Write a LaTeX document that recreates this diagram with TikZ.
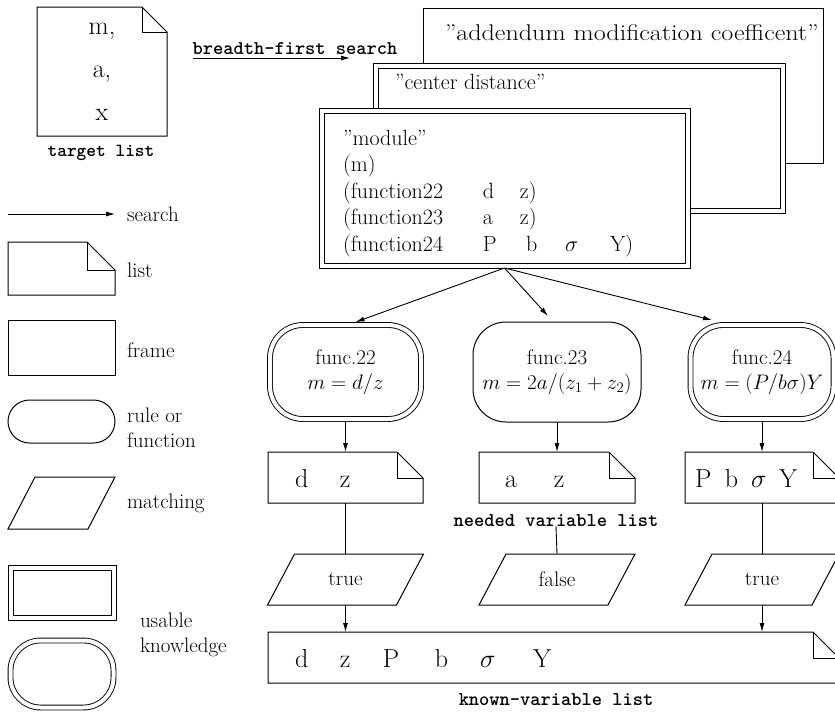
\RequirePackage{fix-cm}
\documentclass[tikz,border=0pt]{standalone}
\usepackage{graphicx}
\usetikzlibrary{calc,arrows.meta}
\newcommand\fzLab{\ttfamily\bfseries\fontsize{19.5}{23}\selectfont}
\newcommand\fzFrame{\fontsize{22}{26.5}\selectfont}
\newcommand\fzFunc{\fontsize{21}{25}\selectfont}
\newcommand\fzList{\fontsize{26}{30}\selectfont}
\newcommand\fzLeg{\fontsize{21}{25}\selectfont}
\newcommand\mk[2]{\makebox[#1pt][l]{#2}}
\newcommand\qq{\textquotedblright}
% folded-corner list outline around a named node
\newcommand\drawdoc[2]{%
  \draw[line width=1pt] (#1.south west) -- (#1.north west) -- ($(#1.north east)+(-#2,0)$)
     -- ($(#1.north east)+(0,#2)$) -- (#1.south east) -- cycle;
  \draw[line width=1pt] ($(#1.north east)+(-#2,0)$) -- ++(0,#2) -- ++(#2,0);}
% parallelogram outline around a named node
\newcommand\drawpara[2]{%
  \draw[line width=1pt] ($(#1.north west)+(#2,0)$) -- (#1.north east)
     -- ($(#1.south east)+(-#2,0)$) -- (#1.south west) -- cycle;}
% inner line of a double-lined rectangle
\newcommand\innerbox[2]{%
  \draw[line width=0.9pt] ($(#1.north west)+(#2,#2)$) rectangle ($(#1.south east)+(-#2,-#2)$);}
\tikzset{
  every node/.style={inner sep=0pt, outer sep=0pt},
  sfrm/.style={draw, line width=1pt, fill=white},
  dfrm/.style={draw, line width=0.9pt, double, double distance=4pt, fill=white, outer sep=2.9pt},
  arr/.style={line width=0.9pt, -{Latex[length=9pt,width=5pt]}},
  ln/.style={line width=0.9pt},
  lab/.style={font=\fzLab, anchor=base},
  legtxt/.style={font=\fzLeg, anchor=base west},
  frtxt/.style={font=\fzFrame, anchor=base west},
  functxt/.style={font=\fzFunc, align=center},
}
\begin{document}
\begin{tikzpicture}[x=1pt,y=-1pt]
\useasboundingbox (0,0) rectangle (835,712);

% ---------- target list ----------
\node[align=center, font={\fontsize{26}{43}\selectfont}, minimum width=130pt, minimum height=129pt] (tl) at (102,71.5) {m,\\a,\\x};
\drawdoc{tl}{25}
\node[lab, font=\ttfamily\bfseries\fontsize{18.5}{22}\selectfont] (tllab) at (101,156) {target list};

% ---------- breadth-first search ----------
\coordinate (bfsA) at (193,58);
\coordinate (bfsB) at (350,58);
\draw[arr] (bfsA) -- (bfsB);
\node[lab] (bfslab) at (295,54) {breadth-first search};

% ---------- frames ----------
\node[sfrm, minimum width=400pt, minimum height=155pt] (fr3) at (623,85.5) {};
\node[frtxt] (fr3t) at (445,40) {\scalebox{1.15}[1]{\fontsize{22.7}{27}\selectfont\qq addendum modification coefficent\qq}};
\node[sfrm, minimum width=412pt, minimum height=150pt] (fr2) at (579,138) {};
\innerbox{fr2}{5}
\node[frtxt] (fr2t) at (395,89) {\qq center distance\qq};
\node[sfrm, minimum width=371pt, minimum height=160pt] (fr1) at (504.5,188) {};
\innerbox{fr1}{5}
\node[frtxt] (m1) at (343,145) {\qq module\qq};
\node[frtxt] (m2) at (343,171.5) {(m)};
\node[frtxt] (m3) at (343,198) {\mk{140}{(function22}\mk{37}{d}z)};
\node[frtxt] (m4) at (343,224.5) {\mk{140}{(function23}\mk{37}{a}z)};
\node[frtxt] (m5) at (343,251) {\mk{140}{(function24}\mk{43}{P}\mk{39}{b}\mk{45}{$\sigma$}Y)};

% ---------- functions ----------
\node[dfrm, functxt, rounded corners=33pt, minimum width=151pt, minimum height=94pt] (f22) at (345.5,372) {func.22\\$m=d/z$};
\node[sfrm, functxt, rounded corners=33pt, minimum width=168pt, minimum height=100pt] (f23) at (557,372) {func.23\\$m=2a/(z_1+z_2)$};
\node[dfrm, functxt, rounded corners=33pt, minimum width=143pt, minimum height=94pt] (f24) at (762,372) {func.24\\$m=(P/b\sigma)Y$};

\draw[arr] (fr1.south) -- ($(f22.north)+(10,0)$);
\draw[arr] (fr1.south) -- ($(f23.north)+(-9,-6)$);
\draw[arr] (fr1.south) -- ($(f24.north)+(-50,-2)$);

% ---------- needed variable lists ----------
\node[minimum width=155pt, minimum height=51pt] (l1) at (345.5,477.5) {};
\drawdoc{l1}{26}
\node[font=\fzList, anchor=base west] (l1t) at (295,487) {\mk{45}{d}z};
\node[minimum width=156pt, minimum height=51pt] (l2) at (557,477.5) {};
\drawdoc{l2}{26}
\node[font=\fzList, anchor=base west] (l2t) at (505,487) {\mk{49}{a}z};
\node[minimum width=154pt, minimum height=51pt] (l3) at (762,477.5) {};
\drawdoc{l3}{26}
\node[font=\fzList, anchor=base west] (l3t) at (695,487) {\mk{30}{P}\mk{26}{b}\mk{28}{$\sigma$}Y};
\node[lab] (nvl) at (556,526) {needed variable list};

\draw[arr] (f22.south) -- (l1.north);
\draw[arr] (f23.south) -- (l2.north);
\draw[arr] (f24.south) -- (l3.north);

% ---------- matching ----------
\node[font=\fzFunc, minimum width=156pt, minimum height=51pt] (p1) at (345.5,579.5) {true};
\drawpara{p1}{27}
\node[font=\fzFunc, minimum width=156pt, minimum height=51pt] (p2) at (557,579.5) {false};
\drawpara{p2}{27}
\node[font=\fzFunc, minimum width=154pt, minimum height=51pt] (p3) at (762,579.5) {true};
\drawpara{p3}{27}

\draw[ln] (l1.south) -- (p1.north);
\draw[ln] (nvl.south) -- (p2.north);
\draw[ln] (l3.south) -- (p3.north);

% ---------- known-variable list ----------
\node[minimum width=571pt, minimum height=51pt] (kl) at (553.5,657.5) {};
\drawdoc{kl}{26}
\node[font=\fzList, anchor=base west] (klt) at (295,667) {\mk{45}{d}\mk{43}{z}\mk{52}{P}\mk{45}{b}\mk{53}{$\sigma$}Y};
\node[lab] (kllab) at (556,705) {known-variable list};

\draw[arr] (p1.south) -- (p1.south |- kl.north);
\draw[arr] (p3.south) -- (p3.south |- kl.north);

% ---------- legend ----------
\coordinate (lsA) at (8,214);
\coordinate (lsB) at (115,214);
\draw[arr] (lsA) -- (lsB);
\node[legtxt] (lsT) at (127,221) {search};

\node[minimum width=107pt, minimum height=53pt] (lgl) at (61.5,268.5) {};
\drawdoc{lgl}{28}
\node[legtxt] (lglT) at (127,277) {list};

\node[sfrm, minimum width=107pt, minimum height=55pt] (lgf) at (61.5,347.5) {};
\node[legtxt] (lgfT) at (127,357) {frame};

\node[sfrm, rounded corners=21.5pt, minimum width=107pt, minimum height=43pt] (lgr) at (61.5,421.5) {};
\node[legtxt] (lgrT1) at (127,422) {rule or};
\node[legtxt] (lgrT2) at (127,447) {function};

\node[minimum width=107pt, minimum height=52pt] (lgm) at (61.5,503) {};
\drawpara{lgm}{27}
\node[legtxt] (lgmT) at (127,508) {matching};

\node[sfrm, minimum width=108pt, minimum height=55pt] (lgu1) at (62,592.5) {};
\innerbox{lgu1}{5}
\node[dfrm, rounded corners=30pt, minimum width=103pt, minimum height=67pt] (lgu2) at (62,674) {};
\node[legtxt] (lguT1) at (140,627) {usable};
\node[legtxt] (lguT2) at (140,652) {knowledge};
\end{tikzpicture}
\end{document}
